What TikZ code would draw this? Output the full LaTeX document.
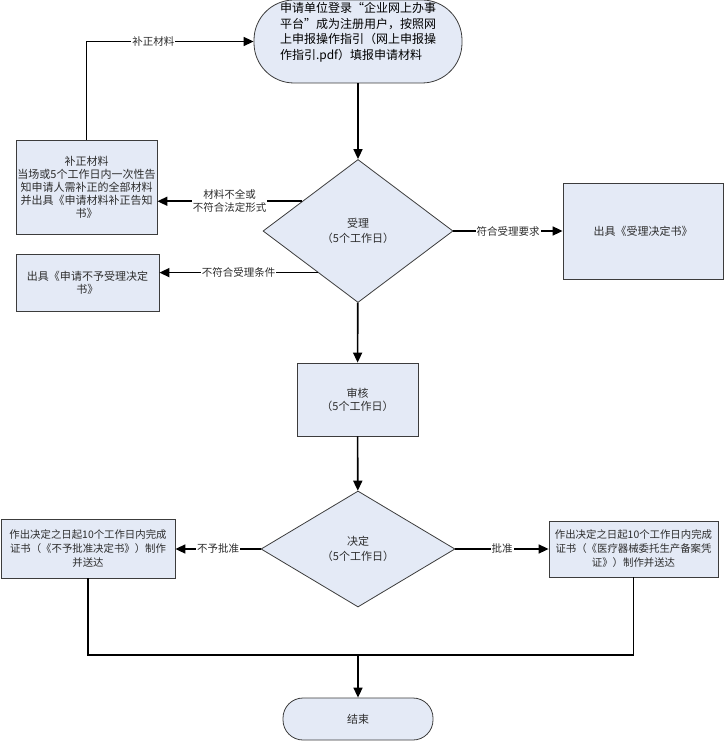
\documentclass[tikz,border=0pt]{standalone}
\usepackage{fontspec}
\setmainfont{Noto Sans CJK SC}
\usetikzlibrary{shapes.geometric,arrows.meta}
\definecolor{boxfill}{RGB}{228,234,246}
\definecolor{boxline}{RGB}{60,60,60}
\definecolor{txt}{RGB}{45,45,45}

\begin{document}
\begin{tikzpicture}[x=1pt,y=-1pt,
    box/.style={rectangle,draw=boxline,fill=boxfill,line width=0.8pt,text=txt,align=center,inner sep=1pt,font=\fontsize{11}{13}\selectfont},
    test/.style={diamond,draw=boxline,fill=boxfill,line width=0.8pt,text=txt,align=center,inner sep=0pt,font=\fontsize{11}{15}\selectfont},
    term/.style={rectangle,draw=boxline,fill=boxfill,line width=0.8pt,text=txt,inner sep=1pt,font=\fontsize{11}{13}\selectfont},
    flow/.style={line width=1.6pt,-{Triangle[length=10pt,width=9pt]}},
    tag/.style={fill=white,inner sep=1pt,text=txt,align=center,font=\fontsize{10.5}{13}\selectfont}]

        \useasboundingbox (0,0) rectangle (724,741);

        \node[term,rounded corners=40,minimum width=208,minimum height=83,align=left,text=black,font=\fontsize{12}{15.5}\selectfont] (start) at (358,41.5)
          {申请单位登录“企业网上办事\\平台”成为注册用户，按照网\\上申报操作指引（网上申报操\\作指引.pdf）填报申请材料\\[6pt]\mbox{}};
        \node[test,minimum width=190,minimum height=143] (accept) at (358,231) {受理\\（5个工作日）};
        \node[box,minimum width=141,minimum height=94]  (fix)    at (86.5,187) {补正材料\\当场或5个工作日内一次性告\\知申请人需补正的全部材料\\并出具《申请材料补正告知\\书》};
        \node[box,minimum width=143,minimum height=57]  (reject) at (87.5,282.5) {出具《申请不予受理决定\\书》};
        \node[box,minimum width=160,minimum height=96]  (notice) at (643,231) {出具《受理决定书》};
        \node[box,minimum width=121,minimum height=73]  (review) at (357.5,399.5) {审核\\（5个工作日）};
        \node[test,minimum width=194,minimum height=116] (decide) at (358,549) {决定\\（5个工作日）};
        \node[box,minimum width=174,minimum height=59,font=\fontsize{10.4}{14}\selectfont] (deny)  at (88,548.5)
          {作出决定之日起10个工作日内完成\\证书（《不予批准决定书》）制作\\并送达};
        \node[box,minimum width=169,minimum height=56,font=\fontsize{10.4}{14}\selectfont] (grant) at (633.5,549)
          {作出决定之日起10个工作日内完成\\证书（《医疗器械委托生产备案凭\\证》）制作并送达};
        \node[term,rounded corners=20,minimum width=150,minimum height=42] (stop) at (358,719) {结束};
        \coordinate (join) at (358,655);

        \begin{scope}[every node/.style={tag}]
          \begin{scope}[every edge/.style={draw,flow}]
            \path (start)  edge (accept);
            \path (accept) edge (review);
            \path (review) edge (decide);
            \path (accept.152.6) edge node {材料不全或\\不符合法定形式} (accept.152.6 -| fix.east);
            \path (accept.226.4) edge node {不符合受理条件} (accept.226.4 -| reject.east);
            \path (accept.east)  edge node {符合受理要求} (accept.east -| notice.west);
            \path (decide.west)  edge node {不予批准} (decide.west -| deny.east);
            \path (decide.east)  edge node {批准} (decide.east -| grant.west);
            \path (join)         edge (stop);
          \end{scope}
          \draw[flow] (fix.north) |- node[pos=0.7] {补正材料} (start.west);
          \draw[line width=1.6pt] (deny.south) |- (join);
          \draw[line width=1.6pt] (grant.south) |- (join);
        \end{scope}

      \end{tikzpicture}
\end{document}
